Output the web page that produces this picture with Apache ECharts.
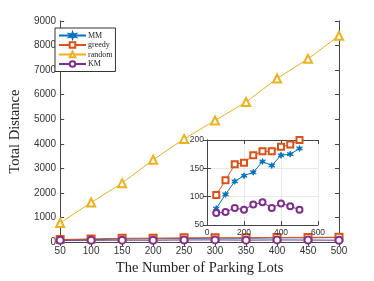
<!DOCTYPE html>
<html><head><meta charset="utf-8">
<script src="https://cdn.jsdelivr.net/npm/echarts@6/dist/echarts.min.js"></script>
<style>html,body{margin:0;padding:0;background:#fff}#c{width:374px;height:281px}</style>
</head><body><div id="c"></div>
<script>
const lots = [50,100,150,200,250,300,350,400,450,500];
const mm = [79,104,127,137,143,162,155,173,175,185];
const greedy = [103,129,157,160,173,180,180,188,192,200];
const random = [780,1610,2400,3350,4200,4950,5700,6660,7460,8400];
const km = [71,73,80,77,86,90,80,88,83,77];
const mainYTicks = [0,1000,2000,3000,4000,5000,6000,7000,8000,9000];

const C = {MM:'#0072BD', greedy:'#D95319', random:'#EDB120', KM:'#7E2F8E'};
const star = 'path://M0,-10 L2,-3.46 L8.66,-5 L4,0 L8.66,5 L2,3.46 L0,10 L-2,3.46 L-8.66,5 L-4,0 L-8.66,-5 L-2,-3.46 Z';
const pair = a => lots.map((x,i)=>[x,a[i]]);
const axCol = '#454545';
const sans = 'Liberation Sans', serif = 'Liberation Serif';

function ser(name, data, sym, xi, yi, size){
  return {name, type:'line', data:pair(data), xAxisIndex:xi, yAxisIndex:yi,
    symbol:sym, symbolSize:size, showSymbol:true,
    lineStyle:{color:C[name], width:1},
    itemStyle:{color:C[name], borderColor:C[name], borderWidth:0.9},
    emphasis:{disabled:true}, animation:false, z: xi>=2?10:3};
}
const chart = echarts.init(document.getElementById('c'));
const baseAxis = {axisLine:{show:true,lineStyle:{color:axCol,width:1}}, axisTick:{inside:true,length:4,lineStyle:{color:axCol}},
  splitLine:{show:false}};
chart.setOption({
  animation:false,
  backgroundColor:'#fff',
  grid:[
    {left:49, right:35, top:21, bottom:31},
    {left:207, width:111, top:140, height:85, show:true, backgroundColor:'#fff', borderWidth:0, z:5}
  ],
  legend:{data:['MM','greedy','random','KM'], left:55, top:28, orient:'vertical',
    itemWidth:27, itemHeight:7, itemGap:0.5, padding:[3,3,3,3],
    borderColor:'#333', borderWidth:1, backgroundColor:'#fff',
    textStyle:{fontFamily:serif, fontSize:8, lineHeight:9, color:'#222', padding:[0,0,0,-3]}},
  xAxis:[
    Object.assign({}, baseAxis, {type:'value', gridIndex:0, min:50, max:500, interval:50, position:'bottom',
      name:'The Number of Parking Lots', nameLocation:'middle', nameGap:17,
      nameTextStyle:{fontFamily:serif, fontSize:14.5, color:'#222'},
      axisLabel:{fontFamily:sans, fontSize:10, color:'#333', margin:4}}),
    Object.assign({}, baseAxis, {type:'value', gridIndex:0, min:50, max:500, interval:50, position:'top', axisLabel:{show:false}}),
    Object.assign({}, baseAxis, {type:'value', gridIndex:1, min:0, max:600, interval:200, position:'bottom',
      axisLabel:{fontFamily:sans, fontSize:8.5, color:'#333', margin:3}, z:6,
      splitLine:{show:true, lineStyle:{color:'#e3e3e3', width:0.8}}}),
    Object.assign({}, baseAxis, {type:'value', gridIndex:1, min:0, max:600, interval:200, position:'top', axisLabel:{show:false}, z:6})
  ],
  yAxis:[
    Object.assign({}, baseAxis, {type:'value', gridIndex:0, min:0, max:9000, interval:1000, position:'left',
      name:'Total Distance', nameLocation:'middle', nameGap:27,
      nameTextStyle:{fontFamily:serif, fontSize:14.5, color:'#222'},
      axisLabel:{fontFamily:sans, fontSize:10, color:'#333', margin:4,
        formatter:v=>mainYTicks.includes(v)?String(v):''}}),
    Object.assign({}, baseAxis, {type:'value', gridIndex:0, min:0, max:9000, interval:1000, position:'right', axisLabel:{show:false}}),
    Object.assign({}, baseAxis, {type:'value', gridIndex:1, min:50, max:200, interval:50, position:'left',
      axisLabel:{fontFamily:sans, fontSize:8.5, color:'#333', margin:3}, z:6,
      splitLine:{show:true, lineStyle:{color:'#e3e3e3', width:0.8}}}),
    Object.assign({}, baseAxis, {type:'value', gridIndex:1, min:50, max:200, interval:50, position:'right', axisLabel:{show:false}, z:6})
  ],
  series:[
    ser('MM', mm, star, 0, 0, 7),
    ser('greedy', greedy, 'emptyRect', 0, 0, 7),
    ser('random', random, 'emptyTriangle', 0, 0, 8),
    ser('KM', km, 'emptyCircle', 0, 0, 7),
    ser('MM', mm, star, 2, 2, 6),
    ser('greedy', greedy, 'emptyRect', 2, 2, 6),
    ser('KM', km, 'emptyCircle', 2, 2, 6)
  ]
});
</script></body></html>
